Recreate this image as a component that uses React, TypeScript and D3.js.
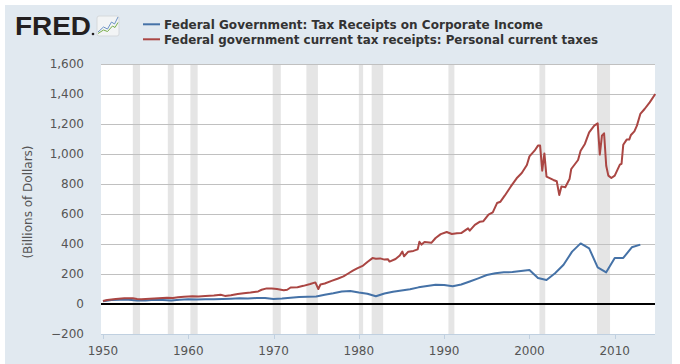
import * as d3 from 'd3'

const W = 680
const H = 364
const PLOT = { left: 101, right: 655, top: 64, bottom: 334 }

// Federal Government: Tax Receipts on Corporate Income (annual)
const corpYears = [
  1950, 1951, 1952, 1953, 1954, 1955, 1956, 1957, 1958, 1959, 1960, 1961, 1962,
  1963, 1964, 1965, 1966, 1967, 1968, 1969, 1970, 1971, 1972, 1973, 1974, 1975,
  1976, 1977, 1978, 1979, 1980, 1981, 1982, 1983, 1984, 1985, 1986, 1987, 1988,
  1989, 1990, 1991, 1992, 1993, 1994, 1995, 1996, 1997, 1998, 1999, 2000, 2001,
  2002, 2003, 2004, 2005, 2006, 2007, 2008, 2009, 2010, 2011, 2012, 2013,
]
const corpValues = [
  18, 27, 29, 29, 24, 24, 29, 27, 24, 28, 31, 30, 31, 32, 33, 35, 38, 37, 40, 40,
  33, 36, 42, 46, 48, 50, 62, 72, 84, 87, 76, 68, 52, 70, 82, 90, 98, 111, 120,
  129, 127, 118, 130, 150, 171, 193, 205, 211, 213, 220, 227, 173, 160, 205, 262,
  349, 404, 371, 244, 211, 307, 307, 378, 396,
]

// Federal government current tax receipts: Personal current taxes (quarterly, key readings)
const personalDates = [
  1950.0, 1950.5, 1951.0, 1951.5, 1952.5, 1953.5, 1954.0, 1954.5, 1955.5, 1956.5,
  1957.5, 1958.2, 1958.8, 1959.5, 1960.5, 1961.2, 1962.0, 1963.0, 1963.8, 1964.3,
  1965.0, 1965.8, 1966.5, 1967.3, 1968.2, 1968.6, 1969.2, 1969.8, 1970.4, 1971.2,
  1971.6, 1972.0, 1972.8, 1973.5, 1974.3, 1974.9, 1975.25, 1975.5, 1976.0, 1976.8,
  1977.5, 1978.2, 1978.8, 1979.3, 1979.8, 1980.5, 1981.0, 1981.6, 1982.0, 1982.5,
  1983.0, 1983.4, 1983.6, 1984.3, 1984.8, 1985.1, 1985.3, 1985.8, 1986.4, 1986.9,
  1987.1, 1987.35, 1987.7, 1988.5, 1989.0, 1989.6, 1990.3, 1990.9, 1991.5, 1992.0,
  1992.8, 1993.0, 1993.6, 1994.2, 1994.6, 1995.2, 1995.7, 1996.2, 1996.6, 1997.1,
  1997.8, 1998.5, 1999.1, 1999.7, 2000.0, 2000.6, 2001.0, 2001.25, 2001.5, 2001.75,
  2002.0, 2002.8, 2003.2, 2003.5, 2003.75, 2004.2, 2004.7, 2004.9, 2005.7, 2006.0,
  2006.5, 2007.0, 2007.6, 2008.0, 2008.25, 2008.5, 2008.75, 2009.0, 2009.25, 2009.6,
  2010.0, 2010.6, 2010.8, 2011.0, 2011.4, 2011.7, 2011.9, 2012.3, 2012.6, 2013.0,
  2013.5, 2014.1, 2014.75,
]
const personalValues = [
  20, 26, 30, 34, 38, 39, 34, 32, 35, 39,
  42, 40, 45, 48, 51, 50, 54, 57, 62, 54,
  58, 66, 72, 76, 84, 95, 104, 104, 100, 92,
  95, 110, 112, 121, 133, 144, 100, 130, 137, 154,
  168, 184, 205, 222, 238, 256, 280, 306, 302, 304,
  296, 299, 283, 300, 323, 350, 318, 349, 354, 364,
  415, 396, 414, 408, 440, 466, 480, 467, 472, 473,
  504, 489, 527, 549, 552, 596, 611, 673, 682, 722,
  782, 838, 873, 927, 984, 1022, 1056, 1056, 889, 1004,
  849, 827, 818, 727, 784, 778, 833, 900, 960, 1022,
  1067, 1144, 1189, 1204, 996, 1122, 1138, 922, 856, 840,
  856, 929, 935, 1062, 1096, 1096, 1127, 1151, 1189, 1267,
  1300, 1344, 1400,
]

// NBER recessions (peak, trough)
const recessionStarts = [1953.5, 1957.6, 1960.25, 1969.9, 1973.85, 1980.0, 1981.5, 1990.5, 2001.17, 2007.92]
const recessionEnds = [1954.35, 1958.3, 1961.1, 1970.85, 1975.2, 1980.5, 1982.85, 1991.2, 2001.85, 2009.45]

const yTicks = [-200, 0, 200, 400, 600, 800, 1000, 1200, 1400, 1600]
const xTicks = [1950, 1960, 1970, 1980, 1990, 2000, 2010]

const legendLabels = [
  'Federal Government: Tax Receipts on Corporate Income',
  'Federal government current tax receipts: Personal current taxes',
]
const seriesColors = ['#4572a7', '#aa4643']

const FONT = '"DejaVu Sans", Verdana, sans-serif'

export default function App() {
  const x = d3.scaleLinear().domain([1949.77, 2014.72]).range([PLOT.left, PLOT.right])
  const y = d3.scaleLinear().domain([-200, 1600]).range([PLOT.bottom, PLOT.top])

  const line = d3
    .line<[number, number]>()
    .x((d) => x(d[0]))
    .y((d) => y(d[1]))

  const corp: [number, number][] = corpYears.map((yr, i) => [yr, corpValues[i]])
  const personal: [number, number][] = personalDates.map((t, i) => [t, personalValues[i]])

  return (
    <svg
      width={W}
      height={H}
      style={{ position: 'absolute', top: 0, left: 0, background: '#fff' }}
    >
      <rect x={5} y={5} width={667} height={H} fill="#e1e9f0" />

      {/* FRED logo */}
      <text
        x={15}
        y={35}
        fontFamily='"Liberation Sans", Arial, sans-serif'
        fontWeight="bold"
        fontSize={26}
        textLength={76}
        lengthAdjust="spacingAndGlyphs"
        fill="#231f20"
      >
        FRED
      </text>
      <circle cx={93} cy={34} r={1.3} fill="#231f20" />
      <rect x={97} y={16} width={22} height={20} rx={2} fill="#f2f4f5" stroke="#d5d9dc" />
      <polyline
        points="98,32 103.5,27 107.5,29 111.5,22 114.5,24 118,17"
        fill="none"
        stroke="#6d93c6"
        strokeWidth={1}
      />
      <polyline
        points="98,33.5 103.5,30 107.5,31.5 112.5,26 115,27.5 118,22.5"
        fill="none"
        stroke="#79ae4a"
        strokeWidth={1}
      />

      {/* legend */}
      {legendLabels.map((label, i) => (
        <g key={label}>
          <line
            x1={143}
            x2={160}
            y1={24.3 + i * 15}
            y2={24.3 + i * 15}
            stroke={seriesColors[i]}
            strokeWidth={2}
          />
          <text
            x={164}
            y={28.5 + i * 15}
            fontFamily={FONT}
            fontWeight="bold"
            fontSize={12}
            fill="#333"
            textLength={i === 0 ? 379 : 434}
            lengthAdjust="spacingAndGlyphs"
          >
            {label}
          </text>
        </g>
      ))}

      {/* plot area */}
      <rect
        x={PLOT.left}
        y={PLOT.top}
        width={PLOT.right - PLOT.left}
        height={PLOT.bottom - PLOT.top}
        fill="#fff"
      />

      {recessionStarts.map((s, i) => (
        <rect
          key={s}
          x={x(s)}
          y={PLOT.top}
          width={x(recessionEnds[i]) - x(s)}
          height={PLOT.bottom - PLOT.top}
          fill="#e5e5e5"
        />
      ))}

      {yTicks
        .filter((t) => t > 0)
        .map((t) => (
          <line
            key={t}
            x1={PLOT.left}
            x2={PLOT.right}
            y1={Math.round(y(t)) + 0.5}
            y2={Math.round(y(t)) + 0.5}
            stroke="#c0c0c0"
            strokeWidth={1}
          />
        ))}

      {/* x axis */}
      <line
        x1={PLOT.left}
        x2={PLOT.right}
        y1={PLOT.bottom + 0.5}
        y2={PLOT.bottom + 0.5}
        stroke="#c0d0e0"
        strokeWidth={1}
      />
      {xTicks.map((t) => (
        <g key={t}>
          <line
            x1={Math.round(x(t)) + 0.5}
            x2={Math.round(x(t)) + 0.5}
            y1={PLOT.bottom}
            y2={PLOT.bottom + 5}
            stroke="#c0d0e0"
          />
          <text
            x={x(t)}
            y={355}
            textAnchor="middle"
            fontFamily={FONT}
            fontSize={12}
            fill="#555"
          >
            {t}
          </text>
        </g>
      ))}

      {/* y labels */}
      {yTicks.map((t) => (
        <text
          key={t}
          x={84}
          y={y(t)}
          dy="0.36em"
          textAnchor="end"
          fontFamily={FONT}
          fontSize={12}
          fill="#555"
        >
          {d3.format(',')(t)}
        </text>
      ))}
      <text
        transform={`translate(32,${(PLOT.top + PLOT.bottom) / 2 + 3}) rotate(-90)`}
        textAnchor="middle"
        fontFamily={FONT}
        fontSize={12}
        fill="#555"
      >
        (Billions of Dollars)
      </text>

      {/* series */}
      <path d={line(corp) ?? ''} fill="none" stroke={seriesColors[0]} strokeWidth={2} strokeLinejoin="round" />
      <path d={line(personal) ?? ''} fill="none" stroke={seriesColors[1]} strokeWidth={2} strokeLinejoin="round" />

      {/* zero line */}
      <line x1={PLOT.left} x2={PLOT.right} y1={y(0)} y2={y(0)} stroke="#000" strokeWidth={2} />
    </svg>
  )
}
